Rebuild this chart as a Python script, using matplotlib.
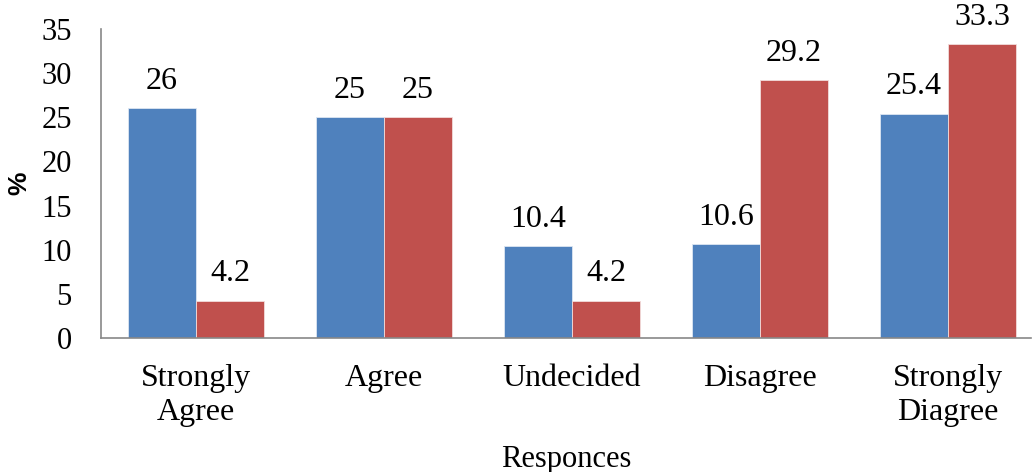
import numpy as np
import matplotlib.pyplot as plt

plt.rcParams["font.family"] = ["Liberation Serif", "DejaVu Serif"]

# --- survey responses (%) ---
categories = ["Strongly\nAgree", "Agree", "Undecided", "Disagree", "Strongly\nDiagree"]
series_a = [26, 25, 10.4, 10.6, 25.4]
series_b = [4.2, 25, 4.2, 29.2, 33.3]
y_ticks = [0, 5, 10, 15, 20, 25, 30, 35]


def main():
    fig = plt.figure(figsize=(10.32, 4.72), dpi=100)
    ax = fig.add_axes([101 / 1032, 134 / 472, 930 / 1032, 309 / 472])

    x = np.arange(len(categories))
    w = 0.362
    b1 = ax.bar(x - w / 2, series_a, w, color="#4F81BD",
                edgecolor="#DCE6F2", linewidth=0.6)
    b2 = ax.bar(x + w / 2, series_b, w, color="#C0504D",
                edgecolor="#F2DCDB", linewidth=0.6)

    for bars in (b1, b2):
        labels = ax.bar_label(bars, labels=[f"{v:g}" for v in bars.datavalues],
                              padding=9, fontsize=23)
        for t in labels:
            t.set_clip_on(False)

    ax.set_xlim(-0.505, 4.441)
    ax.set_ylim(0, 35)
    ax.set_yticks(y_ticks)
    ax.set_xticks(x)
    ax.set_xticklabels(categories, fontsize=23, linespacing=1.2)
    ax.tick_params(axis="y", labelsize=22, length=0, pad=21)
    ax.tick_params(axis="x", length=0, pad=19)

    for side in ("top", "right"):
        ax.spines[side].set_visible(False)
    for side in ("left", "bottom"):
        ax.spines[side].set_color("#888888")
        ax.spines[side].set_linewidth(1.2)

    ax.set_xlabel("Responces", fontsize=22, labelpad=13)
    ax.set_ylabel("%", fontsize=19, fontweight="bold",
                  family=["Liberation Sans", "DejaVu Sans"], labelpad=7)

    fig.savefig("out.png", dpi=100)


if __name__ == "__main__":
    main()
